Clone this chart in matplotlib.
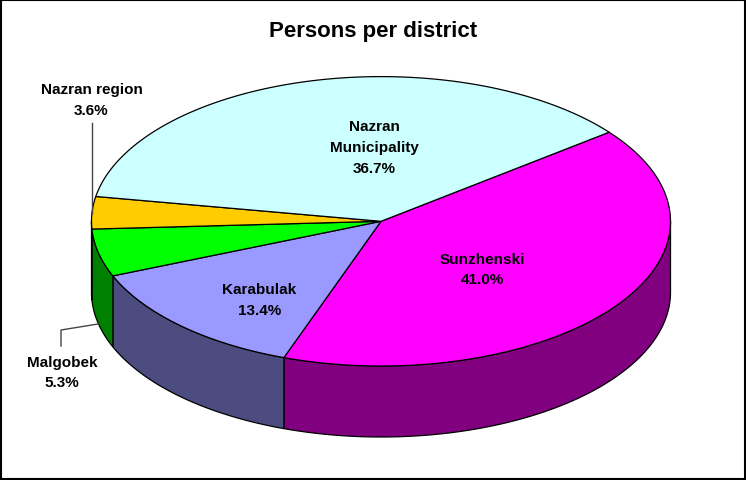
import numpy as np
import matplotlib.pyplot as plt
from matplotlib.patches import Polygon, Rectangle

# donnees du graphique (parts en %)
districts = ['Sunzhenski', 'Karabulak', 'Malgobek', 'Nazran region', 'Nazran\nMunicipality']
shares = [41.0, 13.4, 5.3, 3.6, 36.7]
top_colors = ['#FF00FF', '#9999FF', '#00FF00', '#FFCC00', '#CCFFFF']
side_colors = ['#800080', '#4C4C80', '#008000', '#806600', '#668080']
title = 'Persons per district'

# geometrie du camembert 3D (en pixels)
cx, cy = 381, 222.3
rx, ry = 289.5, 144.7
depth = 71
start_angle = 38.0

# positions des etiquettes
label_pos = [(482, 270), (259.5, 300.5), (62, 373), (91.5, 100.5), (374.5, 148)]

plt.rcParams['font.family'] = ['Liberation Sans', 'DejaVu Sans']

fig = plt.figure(figsize=(7.46, 4.81), dpi=100)
ax = fig.add_axes([0, 0, 1, 1])
ax.set_xlim(0, 746)
ax.set_ylim(481, 0)
ax.axis('off')


def point(t):
    t = np.radians(t)
    return cx + rx * np.cos(t), cy - ry * np.sin(t)


def arc(t0, t1, n=200):
    ts = np.radians(np.linspace(t0, t1, n))
    return np.column_stack([cx + rx * np.cos(ts), cy - ry * np.sin(ts)])


# angles des bords (sens horaire)
bounds = start_angle - np.concatenate([[0], np.cumsum(shares)]) * 3.6

# faces laterales (partie avant visible : -180 a 0)
for i in range(len(shares)):
    a0, a1 = bounds[i], bounds[i + 1]
    lo, hi = max(a1, -180), min(a0, 0)
    if hi <= lo:
        continue
    top = arc(hi, lo)
    bottom = top[::-1] + [0, depth]
    ax.add_patch(Polygon(np.vstack([top, bottom]), closed=True,
                         facecolor=side_colors[i], edgecolor='black', lw=0.9))

# faces du dessus
for i in range(len(shares)):
    pts = np.vstack([[cx, cy], arc(bounds[i], bounds[i + 1])])
    ax.add_patch(Polygon(pts, closed=True, facecolor=top_colors[i],
                         edgecolor='black', lw=0.9, joinstyle='round'))

# etiquettes
for name, val, (lx, ly) in zip(districts, shares, label_pos):
    ax.text(lx, ly, f'{name}\n{val:.1f}%', ha='center', va='center',
            fontsize=11, fontweight='bold', linespacing=1.62)

# lignes de rappel
mid = (bounds[:-1] + bounds[1:]) / 2
px, py = point(mid[3])
ax.plot([px, px], [124, py], color='#444444', lw=1)
px, py = point(mid[2])
ax.plot([61, 61, px], [347, 331, py + depth], color='#444444', lw=1)

ax.text(373, 31, title, ha='center', va='center', fontsize=16, fontweight='bold')

fig.add_artist(Rectangle((0.001, 0.003), 0.997, 0.995, transform=fig.transFigure,
                         fill=False, edgecolor='black', lw=1.5))

fig.savefig('out.png', dpi=100)
